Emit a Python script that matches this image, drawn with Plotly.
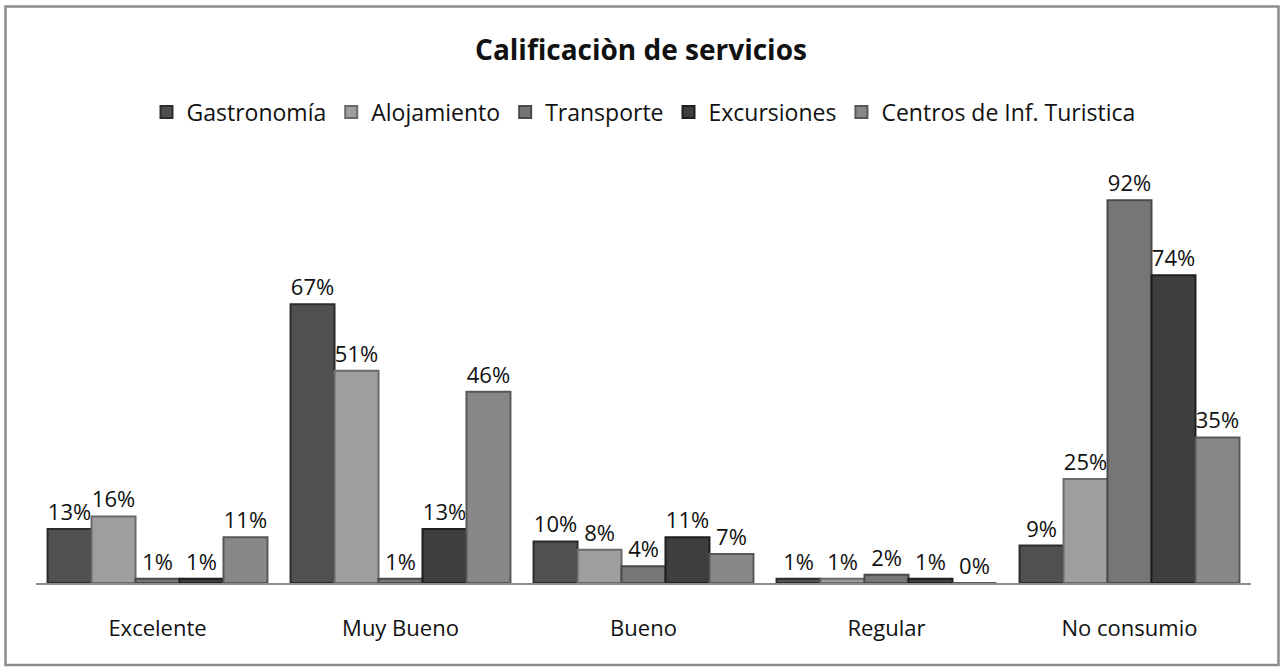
import plotly.graph_objects as go

categories = ["Excelente", "Muy Bueno", "Bueno", "Regular", "No consumio"]
series_names = ["Gastronomía", "Alojamiento", "Transporte", "Excursiones", "Centros de Inf. Turistica"]
gastronomia = [13, 67, 10, 1, 9]
alojamiento = [16, 51, 8, 1, 25]
transporte = [1, 1, 4, 2, 92]
excursiones = [1, 13, 11, 1, 74]
centros = [11, 46, 7, 0, 35]
title_text = "Calificaciòn de servicios"

values = [gastronomia, alojamiento, transporte, excursiones, centros]
colors = ["#505050", "#9e9e9e", "#767676", "#3e3e3e", "#888888"]
line_colors = ["#2c2c2c", "#6a6a6a", "#4a4a4a", "#1e1e1e", "#585858"]

FONT = "Open Sans"
FS = 22

fig = go.Figure()
for name, vals, c, lc in zip(series_names, values, colors, line_colors):
    fig.add_trace(go.Bar(
        x=categories, y=vals, name=name,
        marker=dict(color=c, line=dict(color=lc, width=2)),
        text=[f"{v}%" for v in vals], textposition="outside",
        textfont=dict(family=FONT, size=FS, color="#111111"),
        cliponaxis=False,
    ))

L, R, T, B = 36, 31, 167, 85
W, H = 1282, 668
pw = W - L - R
ph = H - T - B

def px_x(px):
    return (px - L) / pw

def px_y(py):
    return (H - B - py) / ph

fig.update_layout(
    width=W, height=H,
    margin=dict(l=L, r=R, t=T, b=B),
    paper_bgcolor="white", plot_bgcolor="white",
    barmode="group", bargap=0.095, bargroupgap=0,
    title=dict(text=f"<b>{title_text}</b>", x=0.5, xanchor="center",
               y=1 - 50 / H, yanchor="middle",
               font=dict(family=FONT, size=28, color="#111111")),
    legend=dict(orientation="h", x=0.5, xanchor="center", y=px_y(112), yanchor="middle",
                font=dict(family=FONT, size=23, color="#111111"),
                itemwidth=30, tracegroupgap=0, traceorder="normal"),
    xaxis=dict(showline=True, linecolor="#8c8c8c", linewidth=2, ticks="",
               ticklabelstandoff=25,
               tickfont=dict(family=FONT, size=FS, color="#111111"), showgrid=False),
    yaxis=dict(range=[0, 100], visible=False, showgrid=False),
    shapes=[dict(type="rect", xref="paper", yref="paper",
                 x0=px_x(5.5), x1=px_x(1278.5), y0=px_y(665), y1=px_y(6.5),
                 line=dict(color="#8c8c8c", width=2.5), fillcolor="rgba(0,0,0,0)", layer="below")],
)

fig.write_html("out.html", config={"displayModeBar": False},
               post_script="document.body.style.margin='0';")
